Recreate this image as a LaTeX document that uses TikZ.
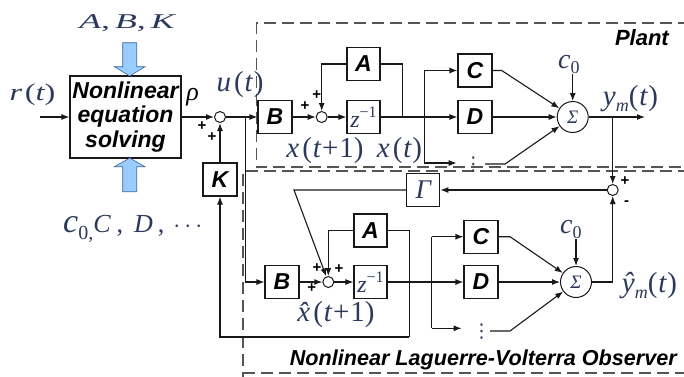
\documentclass[tikz,border=0pt]{standalone}
\usepackage{graphicx}
\usepackage{fontspec}
\setmainfont{Liberation Serif}
\newfontfamily\hv{Liberation Sans}
\newfontfamily\dv{DejaVu Sans}
\usetikzlibrary{arrows.meta}
\definecolor{mathblue}{RGB}{43,57,92}
\definecolor{wirec}{RGB}{25,25,25}
\definecolor{dashc}{RGB}{85,85,85}
\definecolor{bluefill}{RGB}{153,204,255}
\definecolor{blueedge}{RGB}{60,100,160}
\newcommand\fs[1]{\fontsize{#1}{#1}\selectfont}
\begin{document}
\begin{tikzpicture}[x=1pt,y=-1pt,
  wire/.style={draw=wirec,line width=1.1pt},
  arr/.style={wire,-{Latex[length=8pt,width=6pt]}},
  blk/.style={draw=wirec,line width=1.1pt,minimum width=34pt,minimum height=33pt,inner sep=0pt,font=\hv\bfseries\itshape\fs{23}},
  mblk/.style={draw=wirec,line width=1.1pt,minimum width=33pt,minimum height=33pt,inner sep=0pt,text=mathblue,font=\fs{24}\itshape},
  sumc/.style={circle,draw=wirec,line width=1pt,minimum size=11pt,inner sep=0pt},
  sigc/.style={circle,draw=wirec,line width=1pt,minimum size=31pt,inner sep=0pt,text=mathblue,font=\fs{19}\itshape},
  lbl/.style={text=mathblue,inner sep=0pt},
  vd/.style={text=mathblue,inner sep=0pt,font=\dv\fs{19}},
  sgn/.style={font=\hv\bfseries\fs{15},inner sep=0pt},
  dsh/.style={draw=dashc,line width=1.1pt,dash pattern=on 12pt off 6pt},
  ttl/.style={font=\hv\bfseries\itshape\fs{22},inner sep=0pt},
  bigarr/.style={fill=bluefill,draw=blueedge,line width=0.6pt}
]
\useasboundingbox (0,0) rectangle (684,376);

% dashed frames
\draw[dsh] (690,23) -- (256.7,23) -- (256.7,167) -- (690,167);
\draw[dsh] (690,171) -- (243,171) -- (243,380);
\draw[dsh] (243,373) -- (690,373);
\node[ttl,anchor=base east] (tPlant) at (669,45.6) {Plant};
\node[ttl,anchor=base east,font=\hv\bfseries\itshape\fs{21.6}] (tObs) at (677,365) {Nonlinear Laguerre-Volterra Observer};

% nonlinear solver
\node[draw=wirec,line width=1.1pt,minimum width=111pt,minimum height=82pt,inner sep=0pt,align=center,
      font=\hv\bfseries\itshape\fontsize{23}{24.5}\selectfont] (nl) at (125.5,117) {Nonlinear\\equation\\solving};
\path[bigarr] (122.7,42.7) -- (136.7,42.7) -- (136.7,66.7) -- (145,66.7) -- (129.7,76) -- (114.3,66.7) -- (122.7,66.7) -- cycle;
\path[bigarr] (122.7,191.7) -- (136.7,191.7) -- (136.7,166.7) -- (145,166.7) -- (129.7,158) -- (114.3,166.7) -- (122.7,166.7) -- cycle;
\node[lbl,anchor=base] (lABK) at (127,28) {\scalebox{1.7}[1]{\fs{21}\itshape A\upshape,\hspace{3pt}\itshape B\upshape,\hspace{3pt}\itshape K}};
\node[lbl,anchor=base west] (lCD) at (63,232) {{\fs{34}\itshape c}\raisebox{-7pt}{\fs{20}0,}{\fs{26}\itshape C\upshape\hspace{6pt},\hspace{11pt}\itshape D\upshape\hspace{5pt},\hspace{9pt}$\cdots$}};
\node[lbl,anchor=base] (lr) at (32.5,100) {\scalebox{1.35}[1]{\fs{24}\itshape r\hspace{2pt}\upshape(\itshape t\upshape)}};
\node[anchor=base,inner sep=0pt] (lrho) at (192.5,100) {\fs{26}\itshape ρ};
\node[lbl,anchor=base] (lu) at (240,91.7) {\fs{29}\itshape u\hspace{3pt}\upshape(\hspace{1pt}\itshape t\hspace{1pt}\upshape)};

% plant blocks
\node[sumc] (s1) at (220,117) {};
\node[blk] (Bp) at (275,117) {B};
\node[sumc] (s2) at (321.7,117) {};
\node[blk,minimum width=33pt] (Ap) at (363.5,64) {A};
\node[mblk] (Zp) at (363.5,117) {z\upshape\raisebox{10pt}{\fs{16}−1}};
\node[blk] (Cp) at (475,70.5) {C};
\node[blk] (Dp) at (475,117) {D};
\node[sigc] (Sp) at (572.7,117) {Σ};
\node[blk] (K) at (220,179.5) {K};
\node[mblk,font=\fs{27}\itshape] (Gm) at (423.3,190) {Γ};
\node[sumc] (cmp) at (612.7,190) {};

\node[lbl,anchor=base] (lxp1) at (325,157) {\fs{29}\itshape x\hspace{3pt}\upshape(\hspace{1pt}\itshape t\hspace{1pt}\upshape+\hspace{1pt}1)};
\node[lbl,anchor=base] (lxt) at (399.5,157) {\fs{29}\itshape x\hspace{3pt}\upshape(\hspace{1pt}\itshape t\hspace{1pt}\upshape)};
\node[lbl,anchor=base west] (lc0p) at (558,68) {{\fs{28}\itshape c}\raisebox{-5pt}{\fs{18}0}};
\node[lbl,anchor=base] (lym) at (630.5,105) {\fs{29}\itshape y\raisebox{-6pt}{\fs{18}m}\upshape(\hspace{1pt}\itshape t\hspace{1pt}\upshape)};

% observer blocks
\node[blk] (Bo) at (282,282) {B};
\node[sumc] (s3) at (328.3,282) {};
\node[blk,minimum width=33pt] (Ao) at (370.5,230.5) {A};
\node[mblk] (Zo) at (370.5,282) {z\upshape\raisebox{10pt}{\fs{16}−1}};
\node[blk] (Co) at (481,236.7) {C};
\node[blk] (Do) at (481,282) {D};
\node[sigc] (So) at (576,282) {Σ};
\node[lbl,anchor=base] (lxh) at (336,321.7) {\fs{29}\itshape \^x\hspace{3pt}\upshape(\hspace{1pt}\itshape t\hspace{1pt}\upshape+\hspace{1pt}1)};
\node[lbl,anchor=base west] (lc0o) at (560,233.3) {{\fs{28}\itshape c}\raisebox{-5pt}{\fs{18}0}};
\node[lbl,anchor=base] (lyh) at (649.5,292) {\fs{29}\itshape \^y\raisebox{-6pt}{\fs{18}m}\upshape(\hspace{1pt}\itshape t\hspace{1pt}\upshape)};

% dots
\node[vd] (dotp) at (473.3,165) {⋮};
\node[vd] (doto) at (481.5,332) {⋮};

% coordinates
\coordinate (rin) at (40,117);
\coordinate (j1) at (245.7,117);
\coordinate (jA) at (402.7,117);
\coordinate (jCt) at (424.3,70.5);
\coordinate (jCb) at (424.3,163);
\coordinate (dp1) at (456.7,163);
\coordinate (dp2) at (485,164);
\coordinate (dp3) at (505,164);
\coordinate (cb) at (501.7,70.5);
\coordinate (c0pa) at (572.7,74);
\coordinate (yout) at (645,117);
\coordinate (jY) at (612.7,117);
\coordinate (gb) at (294,190);
\coordinate (jAot) at (409.3,230.5);
\coordinate (jAob) at (409.3,337);
\coordinate (jCot) at (431.7,236.7);
\coordinate (jCob) at (431.7,328.3);
\coordinate (do1) at (461.7,328.3);
\coordinate (do2) at (490,331);
\coordinate (do3) at (510,331);
\coordinate (cbo) at (510,236.7);
\coordinate (c0oa) at (576,239);

% plant connectors
\draw[arr] (rin) -- (nl);
\draw[arr] (nl) -- (s1);
\draw[arr] (s1) -- (Bp);
\draw[arr] (j1) |- (Bo);
\draw[arr] (Bp) -- (s2);
\draw[arr] (s2) -- (Zp);
\draw[arr] (Zp) -- (Dp);
\draw[wire] (jA) |- (Ap);
\draw[arr] (Ap) -| (s2);
\draw[wire] (jCt) -- (jCb);
\draw[arr] (jCt) -- (Cp);
\draw[arr] (jCb) -- (dp1);
\draw[arr] (dp2) -- (dp3) -- (Sp);
\draw[arr] (Cp) -- (cb) -- (Sp);
\draw[arr] (Dp) -- (Sp);
\draw[arr] (c0pa) -- (Sp);
\draw[arr] (Sp) -- (yout);
\draw[arr] (jY) -- (cmp);
\draw[arr] (cmp) -- (Gm);
\draw[arr] (Gm) -- (gb) -- (s3);
\draw[arr] (K) -- (s1);

% observer connectors
\draw[arr] (Ao) -| (s3);
\draw[arr] (Bo) -- (s3);
\draw[arr] (s3) -- (Zo);
\draw[arr] (Zo) -- (Do);
\draw[wire] (Ao) -- (jAot) -- (jAob);
\draw[arr] (jAob) -| (K);
\draw[wire] (jCot) -- (jCob);
\draw[arr] (jCot) -- (Co);
\draw[arr] (jCob) -- (do1);
\draw[arr] (do2) -- (do3) -- (So);
\draw[arr] (Co) -- (cbo) -- (So);
\draw[arr] (Do) -- (So);
\draw[arr] (c0oa) -- (So);
\draw[arr] (So) -| (cmp);

% signs
\node[sgn] (p1) at (202,126) {+};
\node[sgn] (p2) at (212,137) {+};
\node[sgn] (p3) at (305,106) {+};
\node[sgn] (p4) at (316.7,95) {+};
\node[sgn] (p5) at (317,268) {+};
\node[sgn] (p6) at (339,269) {+};
\node[sgn] (p7) at (311.7,288) {+};
\node[sgn] (p8) at (625,181) {+};
\node[sgn] (p9) at (626.7,203) {-};
\end{tikzpicture}
\end{document}
